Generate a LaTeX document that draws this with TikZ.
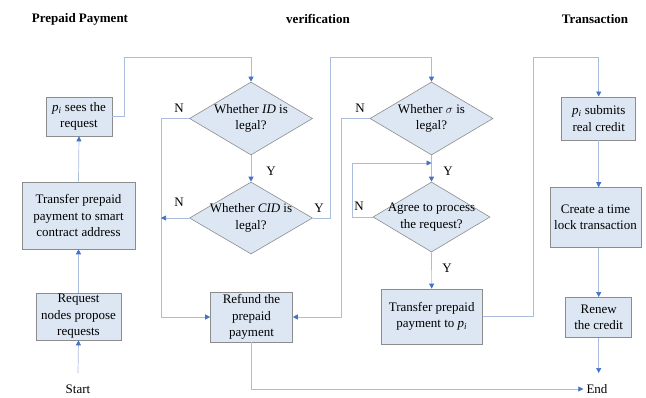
\documentclass[tikz,border=0pt]{standalone}
\usepackage{fontspec}
\setmainfont{Liberation Serif}
\usepackage{tikz}
\usetikzlibrary{calc}
\usetikzlibrary{shapes.geometric}
\usetikzlibrary{arrows.meta}

\definecolor{boxfill}{RGB}{221,231,244}
\definecolor{boxline}{RGB}{140,140,140}
\definecolor{flowline}{RGB}{172,188,222}
\definecolor{tipblue}{RGB}{68,114,196}

\tikzset{
  proc/.style={draw=boxline, fill=boxfill, line width=0.6pt, align=center, inner sep=1pt},
  decision/.style={diamond, draw=boxline, fill=boxfill, line width=0.6pt, inner sep=0pt},
  flow/.style={draw=flowline, line width=0.7pt, -{Triangle[color=tipblue, width=5pt, length=5pt]}},
  txt/.style={align=center, inner sep=3pt}
}

\begin{document}
\begin{tikzpicture}[x=1pt, y=-1pt, font=\fontsize{13}{16.5}\selectfont]

\useasboundingbox (0,0) rectangle (646,397);

\node [font=\fontsize{13}{16.5}\selectfont\bfseries] (head1) at (80, 19) {Prepaid Payment};
\node [font=\fontsize{13}{16.5}\selectfont\bfseries] (head2) at (318, 19) {verification};
\node [font=\fontsize{13}{16.5}\selectfont\bfseries] (head3) at (595, 19) {Transaction};

% prepaid payment
\node [proc, minimum width=66pt, minimum height=39pt] (see) at (79, 116.5) {\textit{p}\textsubscript{\textit{i}} sees the\\request};
\node [proc, minimum width=113pt, minimum height=67pt] (trans) at (78.5, 215.5) {Transfer prepaid\\payment to smart\\contract address};
\node [proc, minimum width=85pt, minimum height=47pt] (req) at (78.5, 316.5) {Request\\nodes propose\\requests};
\node [txt] (start) at (78, 389) {Start};
\coordinate (s0) at (78, 373);

% verification
\node [decision, minimum width=123pt, minimum height=73pt, label={[txt]center:Whether \textit{ID} is\\legal?}] (d1) at (251, 118.5) {};
\node [decision, minimum width=123pt, minimum height=72pt, label={[txt]center:Whether \textit{CID} is\\legal?}] (d2) at (251, 218) {};
\node [proc, minimum width=82pt, minimum height=50pt] (refund) at (251.5, 317) {Refund the\\prepaid\\payment};
\node [decision, minimum width=123pt, minimum height=73pt, label={[txt]center:Whether $\sigma$ is\\legal?}] (d3) at (431.5, 118.5) {};
\node [decision, minimum width=117pt, minimum height=70pt, label={[txt]center:Agree to process\\the request?}] (d4) at (431.5, 217) {};
\node [proc, minimum width=101pt, minimum height=55pt] (pay) at (431.7, 316.5) {Transfer prepaid\\payment to \textit{p}\textsubscript{\textit{i}}};
\coordinate (back) at (431.5, 163);

% transaction
\node [proc, minimum width=74pt, minimum height=43pt] (sub) at (598.7, 118.3) {\textit{p}\textsubscript{\textit{i}} submits\\real credit};
\node [proc, minimum width=91pt, minimum height=60pt] (create) at (595.5, 217.5) {Create a time\\lock transaction};
\node [proc, minimum width=66pt, minimum height=40pt] (renew) at (598.7, 317.3) {Renew\\the credit};
\node [txt] (end) at (597, 389) {End};
\coordinate (e0) at (598.7, 373);

% connectors
\draw [flow] (s0) -- (req.south);
\draw [flow] (req.north) -- (trans.south);
\draw [flow] (trans.north) -- (see.south);
\draw [flow] (see.east) -| (124, 57) -| (d1.north);

\draw [flow] (d1.south) -- (d2.north);
\draw [flow] (d1.west) -- (161, 118.5) |- (refund.west);
\draw [flow] (d2.west) -- (161, 218);
\draw [flow] (d2.east) -| (330, 57) -| (d3.north);
\draw [flow] (d3.west) -- (341.5, 118.5) |- (refund.east);
\draw [flow] (d3.south) -- (d4.north);
\draw [flow] (d4.west) -| (352, 163) -- (back);
\draw [flow] (d4.south) -- (pay.north);
\draw [flow] (refund.south) |- (end.west);

\draw [flow] (pay.east) -| (533, 57) -| (sub.north);
\draw [flow] (sub.south) -- (sub.south |- create.north);
\draw [flow] (create.south -| renew.north) -- (renew.north);
\draw [flow] (renew.south) -- (e0);

\node at (179, 108) {N};
\node at (271, 171) {Y};
\node at (179, 202) {N};
\node at (319, 208) {Y};
\node at (360, 108) {N};
\node at (448, 171) {Y};
\node at (359, 206) {N};
\node at (447, 268) {Y};

\end{tikzpicture}
\end{document}
